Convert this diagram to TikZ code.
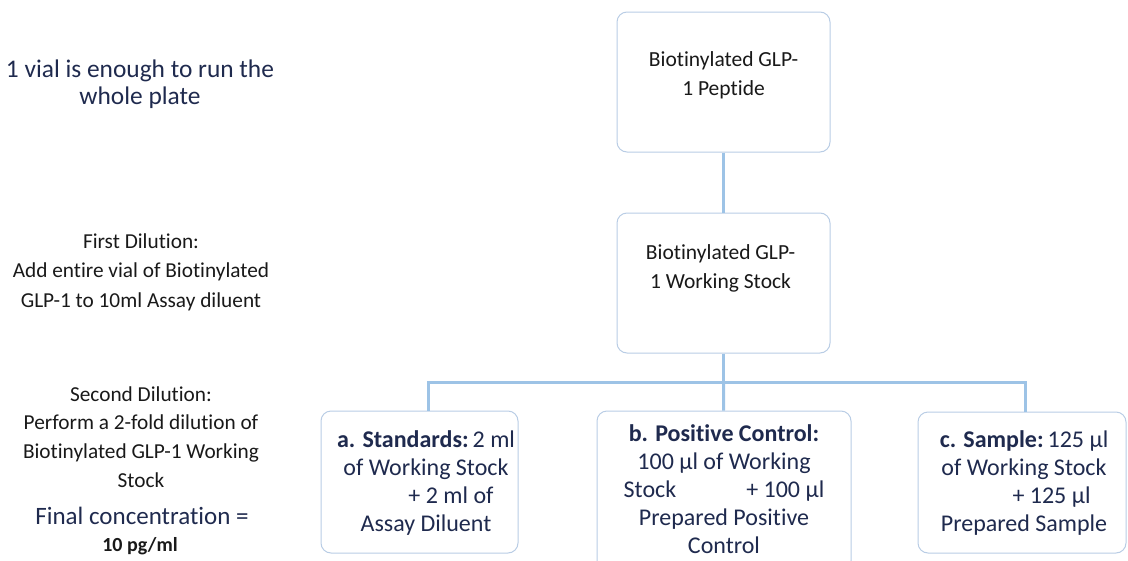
\documentclass[tikz,border=0pt]{standalone}
\usepackage{fontspec}
\setmainfont{Carlito}[Ligatures=NoCommon]
\usepackage{tikz}
\usetikzlibrary{positioning}
\definecolor{boxline}{HTML}{B9CDE5}
\definecolor{linkblue}{HTML}{9DC3E6}
\definecolor{navy}{HTML}{1F2A4E}
\tikzstyle{box}=[draw=boxline, line width=1pt, rounded corners=10pt, fill=white, inner sep=0pt]
\tikzset{link/.style={draw=linkblue, line width=3pt},
  toptxt/.style={align=center, font=\fontsize{21.5}{29}\selectfont, text=black!90},
  lowtxt/.style={align=center, font=\fontsize{24}{28}\selectfont, text=navy},
  sidetxt/.style={align=center, font=\fontsize{21.3}{29.5}\selectfont, text=black!90}}

\begin{document}
\begin{tikzpicture}[x=1pt,y=-1pt]
		\useasboundingbox (0,0) rectangle (1128,560);
		% boxes
		\node[box, minimum width=213pt, minimum height=140pt] (pep) at (723.5,82) {};
		\node[box, minimum width=213pt, minimum height=140pt] (work) at (723.5,283) {};
		\node[box, minimum width=197pt, minimum height=142pt] (stda) at (419.5,482) {};
		\node[box, minimum width=254pt, minimum height=160pt] (posb) at (724,491) {};
		\node[box, minimum width=208pt, minimum height=141pt] (samc) at (1022,482.5) {};
		% connectors
		\coordinate (split) at (723.5,382);
		\draw[link] (pep) -- (work);
		\draw[link] (work) -- (split);
		\draw[link] (split) -| ([xshift=8.5pt]stda.north);
		\draw[link] (split) -- (posb);
		\draw[link] (split) -| ([xshift=3pt]samc.north);
		% box texts
		\node[toptxt] (pepT) at (723.5,75) {Biotinylated GLP-\\1 Peptide};
		\node[toptxt] (workT) at (720.5,268) {Biotinylated GLP-\\1 Working Stock};
		\node[lowtxt] (stdaT) at (426,483) {\textbf{a. Standards:}\,2 ml\\of Working Stock\\\hspace*{50pt}+ 2 ml of\\Assay Diluent};
		\node[lowtxt] (posbT) at (724,489) {\textbf{b. Positive Control:}\\100 µl of Working\\Stock\hspace*{70pt}+ 100 µl\\Prepared Positive\\Control};
		\node[lowtxt] (samcT) at (1024,483) {\textbf{c. Sample:}\,125 µl\\of Working Stock\\\hspace*{55pt}+ 125 µl\\Prepared Sample};
		% side notes
		\node[align=center, font=\fontsize{25.4}{27}\selectfont, text=navy] (vial) at (140,84) {1 vial is enough to run the\\whole plate};
		\node[sidetxt] (first) at (141,272) {First Dilution:\\Add entire vial of Biotinylated\\GLP-1 to 10ml Assay diluent};
		\node[sidetxt, font=\fontsize{21.3}{28.7}\selectfont] (second) at (141,437) {Second Dilution:\\Perform a 2-fold dilution of\\Biotinylated GLP-1 Working\\Stock};
		\node[font=\fontsize{25}{28}\selectfont, text=navy] (final) at (142,516) {Final concentration =};
		\node[font=\bfseries\fontsize{20}{24}\selectfont, text=black!90] (conc) at (140,546) {10 pg/ml};
		\end{tikzpicture}
\end{document}
